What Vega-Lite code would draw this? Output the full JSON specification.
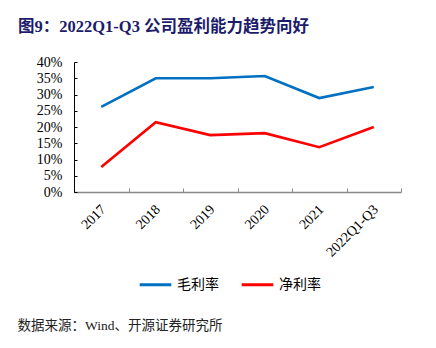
{
  "$schema": "https://vega.github.io/schema/vega-lite/v6.json",
  "width": 327,
  "height": 130,
  "autosize": "none",
  "padding": {"left": 74, "top": 62, "right": 35, "bottom": 156},
  "background": "white",
  "title": {
    "text": "图9：2022Q1-Q3 公司盈利能力趋势向好",
    "anchor": "start",
    "frame": "group",
    "dx": -56,
    "offset": 20,
    "font": "Liberation Serif, Noto Sans CJK SC",
    "fontSize": 16.5,
    "fontWeight": "bold",
    "color": "#1C1C6B"
  },
  "data": {
    "values": [
      {"year": "2017", "series": "毛利率", "v": 0.262},
      {"year": "2018", "series": "毛利率", "v": 0.350},
      {"year": "2019", "series": "毛利率", "v": 0.350},
      {"year": "2020", "series": "毛利率", "v": 0.357},
      {"year": "2021", "series": "毛利率", "v": 0.289},
      {"year": "2022Q1-Q3", "series": "毛利率", "v": 0.323},
      {"year": "2017", "series": "净利率", "v": 0.077},
      {"year": "2018", "series": "净利率", "v": 0.215},
      {"year": "2019", "series": "净利率", "v": 0.175},
      {"year": "2020", "series": "净利率", "v": 0.181},
      {"year": "2021", "series": "净利率", "v": 0.138},
      {"year": "2022Q1-Q3", "series": "净利率", "v": 0.200}
    ]
  },
  "mark": {"type": "line", "strokeWidth": 2.6},
  "encoding": {
    "x": {
      "field": "year",
      "type": "ordinal",
      "scale": {"type": "band", "paddingInner": 0, "paddingOuter": 0},
      "axis": {
        "title": "数据来源：Wind、开源证券研究所",
        "titleX": -57,
        "titleY": 133,
        "titleAlign": "left",
        "titleBaseline": "middle",
        "titleFont": "Liberation Serif, Noto Sans CJK SC",
        "titleFontSize": 13.5,
        "titleFontWeight": "normal",
        "titleColor": "#222",
        "labelAngle": -45,
        "labelAlign": "right",
        "labelBaseline": "top",
        "labelFont": "Liberation Serif",
        "labelFontSize": 14,
        "labelColor": "#000",
        "labelPadding": 14,
        "labelOffset": -3,
        "domainColor": "#888",
        "domainWidth": 1.5,
        "tickColor": "#888",
        "tickSize": -4,
        "tickBand": "extent",
        "grid": false
      }
    },
    "y": {
      "field": "v",
      "type": "quantitative",
      "scale": {"domain": [0, 0.4], "nice": false},
      "axis": {
        "title": null,
        "values": [0, 0.05, 0.1, 0.15, 0.2, 0.25, 0.3, 0.35, 0.4],
        "format": ".0%",
        "labelFont": "Liberation Serif",
        "labelFontSize": 14,
        "labelColor": "#000",
        "domainColor": "#000",
        "tickColor": "#000",
        "tickSize": -3,
        "labelPadding": 15,
        "grid": false
      }
    },
    "color": {
      "field": "series",
      "type": "nominal",
      "scale": {"domain": ["毛利率", "净利率"], "range": ["#0070C0", "#FF0000"]},
      "legend": {
        "title": null,
        "orient": "none",
        "direction": "horizontal",
        "legendX": 64,
        "legendY": 205,
        "symbolType": "stroke",
        "symbolSize": 1000,
        "symbolStrokeWidth": 3,
        "labelFont": "Liberation Serif, Noto Sans CJK SC",
        "labelFontSize": 14,
        "labelColor": "#000",
        "columnPadding": 16
      }
    }
  },
  "config": {"view": {"stroke": null}}
}
